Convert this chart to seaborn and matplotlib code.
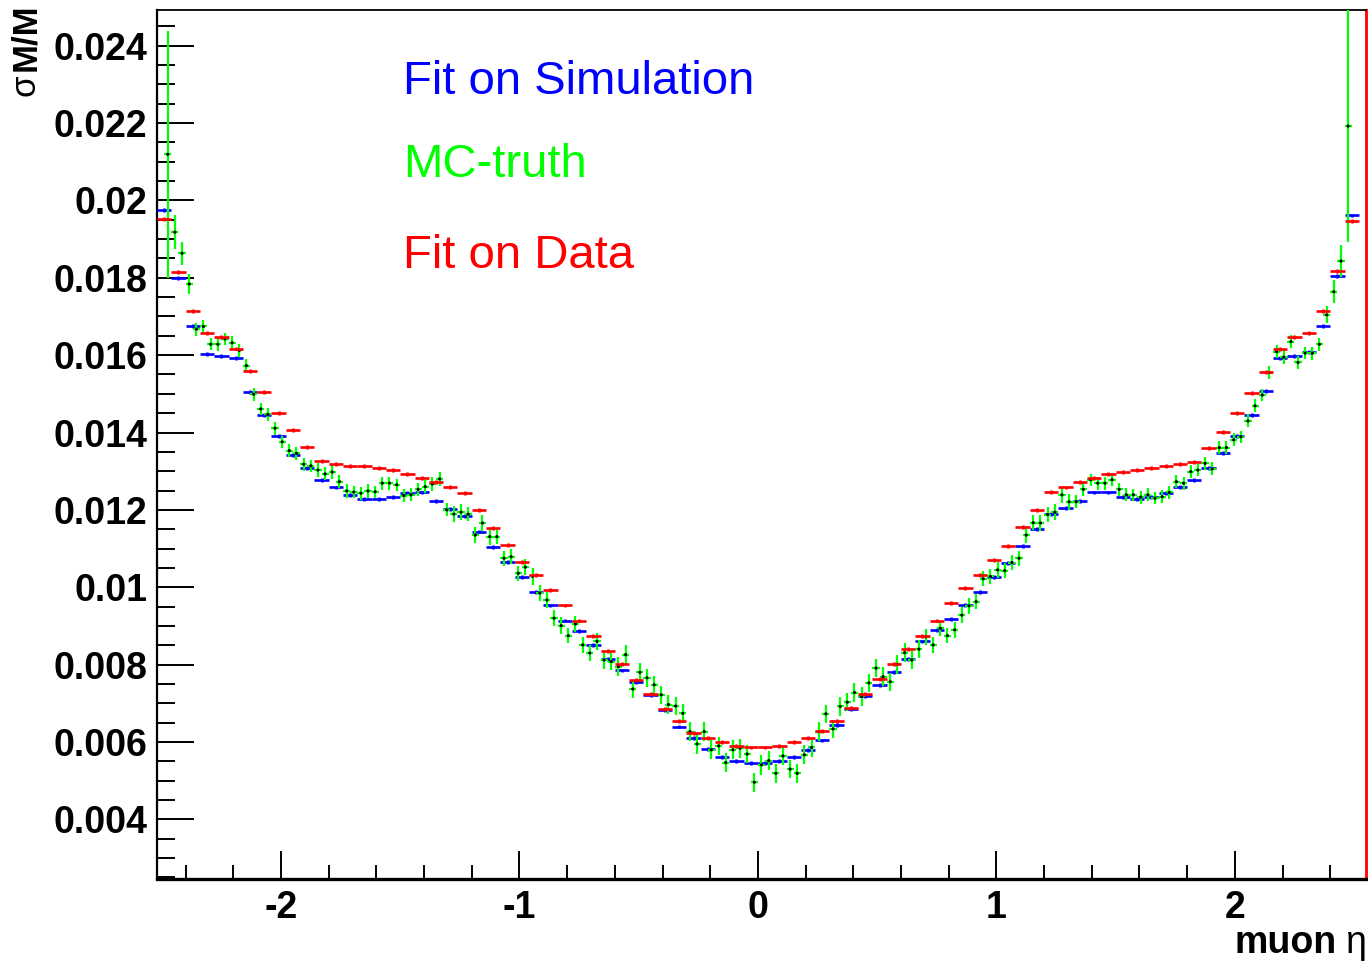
import numpy as np
import pandas as pd
import matplotlib
matplotlib.use("Agg")
import matplotlib.pyplot as plt
import seaborn as sns
from matplotlib.ticker import MultipleLocator, FuncFormatter

# ---------------- data ----------------
eta_range = (-2.52, 2.52)
n_coarse = 84      # bins of the two fits
n_fine = 168       # bins of the MC-truth

fit_sim = [
    0.01975, 0.01800, 0.01676, 0.01603, 0.01598, 0.01592, 0.01504, 0.01445, 0.01391, 0.01342,
    0.01308, 0.01278, 0.01258, 0.01239, 0.01229, 0.01229, 0.01233, 0.01243, 0.01245, 0.01224,
    0.01203, 0.01185, 0.01144, 0.01105, 0.01066, 0.01026, 0.00987, 0.00953, 0.00914, 0.00888,
    0.00850, 0.00815, 0.00785, 0.00754, 0.00722, 0.00683, 0.00640, 0.00611, 0.00582, 0.00561,
    0.00550, 0.00545, 0.00546, 0.00552, 0.00561, 0.00580, 0.00604, 0.00643, 0.00685, 0.00719,
    0.00748, 0.00780, 0.00815, 0.00860, 0.00889, 0.00919, 0.00954, 0.00987, 0.01026, 0.01062,
    0.01107, 0.01151, 0.01190, 0.01204, 0.01223, 0.01245, 0.01245, 0.01234, 0.01229, 0.01233,
    0.01243, 0.01259, 0.01278, 0.01308, 0.01346, 0.01391, 0.01445, 0.01508, 0.01592, 0.01598,
    0.01608, 0.01676, 0.01805, 0.01961,
]

fit_data = [
    0.01951, 0.01814, 0.01715, 0.01657, 0.01646, 0.01617, 0.01558, 0.01504, 0.01450, 0.01406,
    0.01362, 0.01327, 0.01318, 0.01314, 0.01314, 0.01308, 0.01303, 0.01293, 0.01282, 0.01273,
    0.01259, 0.01243, 0.01199, 0.01154, 0.01110, 0.01066, 0.01031, 0.00993, 0.00953, 0.00914,
    0.00874, 0.00835, 0.00801, 0.00761, 0.00725, 0.00685, 0.00655, 0.00624, 0.00610, 0.00600,
    0.00590, 0.00586, 0.00586, 0.00590, 0.00599, 0.00610, 0.00629, 0.00655, 0.00687, 0.00725,
    0.00762, 0.00802, 0.00840, 0.00875, 0.00914, 0.00959, 0.00998, 0.01032, 0.01071, 0.01107,
    0.01155, 0.01200, 0.01247, 0.01258, 0.01273, 0.01282, 0.01293, 0.01299, 0.01303, 0.01308,
    0.01314, 0.01318, 0.01323, 0.01361, 0.01401, 0.01450, 0.01503, 0.01557, 0.01616, 0.01646,
    0.01657, 0.01715, 0.01818, 0.01947,
]

mc_truth = [
    np.nan, 0.02119, 0.01918, 0.01863, 0.01784, 0.01667, 0.01674, 0.01628, 0.01628, 0.01642,
    0.01632, 0.01612, 0.01573, 0.01499, 0.01461, 0.01447, 0.01411, 0.01376, 0.01353, 0.01346,
    0.01318, 0.01314, 0.01303, 0.01293, 0.01298, 0.01273, 0.01249, 0.01246, 0.01243, 0.01249,
    0.01247, 0.01269, 0.01269, 0.01265, 0.01237, 0.01239, 0.01253, 0.01260, 0.01267, 0.01280,
    0.01200, 0.01189, 0.01194, 0.01189, 0.01135, 0.01166, 0.01131, 0.01131, 0.01075, 0.01079,
    0.01036, 0.01052, 0.01028, 0.00985, 0.00967, 0.00920, 0.00901, 0.00875, 0.00905, 0.00851,
    0.00830, 0.00860, 0.00812, 0.00808, 0.00795, 0.00826, 0.00737, 0.00780, 0.00766, 0.00748,
    0.00722, 0.00697, 0.00693, 0.00674, 0.00627, 0.00595, 0.00627, 0.00580, 0.00590, 0.00547,
    0.00580, 0.00584, 0.00569, 0.00496, 0.00541, 0.00552, 0.00519, 0.00564, 0.00530, 0.00519,
    0.00567, 0.00586, 0.00627, 0.00673, 0.00634, 0.00692, 0.00703, 0.00728, 0.00718, 0.00753,
    0.00791, 0.00769, 0.00756, 0.00801, 0.00831, 0.00812, 0.00840, 0.00872, 0.00851, 0.00894,
    0.00875, 0.00890, 0.00928, 0.00952, 0.00963, 0.01022, 0.01028, 0.01045, 0.01043, 0.01064,
    0.01075, 0.01135, 0.01167, 0.01166, 0.01188, 0.01194, 0.01239, 0.01221, 0.01221, 0.01253,
    0.01278, 0.01269, 0.01269, 0.01278, 0.01253, 0.01239, 0.01239, 0.01233, 0.01239, 0.01230,
    0.01234, 0.01245, 0.01273, 0.01269, 0.01299, 0.01303, 0.01320, 0.01306, 0.01361, 0.01361,
    0.01381, 0.01389, 0.01430, 0.01469, 0.01497, 0.01555, 0.01609, 0.01595, 0.01635, 0.01581,
    0.01605, 0.01605, 0.01628, 0.01704, 0.01764, 0.01843, 0.02192, np.nan,
]

mc_truth_err = [
    np.nan, 0.00320, 0.00045, 0.00030, 0.00025, 0.00017, 0.00017, 0.00016, 0.00017, 0.00016,
    0.00017, 0.00016, 0.00017, 0.00017, 0.00016, 0.00017, 0.00017, 0.00016, 0.00017, 0.00016,
    0.00017, 0.00016, 0.00017, 0.00017, 0.00018, 0.00017, 0.00017, 0.00016, 0.00017, 0.00017,
    0.00016, 0.00017, 0.00017, 0.00016, 0.00017, 0.00017, 0.00016, 0.00017, 0.00017, 0.00018,
    0.00017, 0.00020, 0.00020, 0.00019, 0.00020, 0.00020, 0.00021, 0.00020, 0.00020, 0.00019,
    0.00020, 0.00020, 0.00021, 0.00020, 0.00020, 0.00020, 0.00021, 0.00020, 0.00020, 0.00021,
    0.00020, 0.00023, 0.00024, 0.00023, 0.00024, 0.00024, 0.00023, 0.00024, 0.00024, 0.00023,
    0.00024, 0.00024, 0.00023, 0.00024, 0.00024, 0.00025, 0.00024, 0.00024, 0.00023, 0.00024,
    0.00024, 0.00025, 0.00024, 0.00024, 0.00025, 0.00024, 0.00024, 0.00023, 0.00024, 0.00024,
    0.00025, 0.00024, 0.00024, 0.00023, 0.00024, 0.00024, 0.00023, 0.00024, 0.00024, 0.00023,
    0.00024, 0.00024, 0.00023, 0.00024, 0.00024, 0.00023, 0.00024, 0.00020, 0.00021, 0.00020,
    0.00020, 0.00021, 0.00020, 0.00020, 0.00019, 0.00020, 0.00020, 0.00021, 0.00020, 0.00020,
    0.00020, 0.00021, 0.00020, 0.00020, 0.00019, 0.00020, 0.00020, 0.00020, 0.00017, 0.00017,
    0.00016, 0.00017, 0.00017, 0.00016, 0.00017, 0.00017, 0.00016, 0.00017, 0.00017, 0.00016,
    0.00017, 0.00017, 0.00016, 0.00017, 0.00017, 0.00016, 0.00017, 0.00017, 0.00016, 0.00017,
    0.00017, 0.00016, 0.00017, 0.00017, 0.00016, 0.00017, 0.00017, 0.00018, 0.00017, 0.00017,
    0.00016, 0.00017, 0.00017, 0.00022, 0.00029, 0.00042, 0.00300, np.nan,
]

fit_err = 0.00005

legend_labels = ["Fit on Simulation", "MC-truth", "Fit on Data"]
colors = {"sim": "#0000ff", "mc": "#00ff00", "data": "#ff0000"}

# ---------------- derived tables ----------------
coarse_edges = np.linspace(eta_range[0], eta_range[1], n_coarse + 1)
fine_edges = np.linspace(eta_range[0], eta_range[1], n_fine + 1)
coarse = pd.DataFrame({
    "eta": 0.5 * (coarse_edges[:-1] + coarse_edges[1:]),
    "half": 0.5 * np.diff(coarse_edges),
    "sim": fit_sim,
    "data": fit_data,
})
fine = pd.DataFrame({
    "eta": 0.5 * (fine_edges[:-1] + fine_edges[1:]),
    "half": 0.5 * np.diff(fine_edges),
    "mc": mc_truth,
    "err": mc_truth_err,
})

# ---------------- figure ----------------
sns.set_theme(style="white")
plt.rcParams["font.family"] = ["Liberation Sans", "DejaVu Sans"]

W, H = 1368, 961
fig = plt.figure(figsize=(W / 100, H / 100), dpi=100)
ax = fig.add_axes([157 / W, (H - 879) / H, (1366 - 157) / W, (879 - 10) / H])

ax.errorbar(coarse["eta"], coarse["sim"], xerr=coarse["half"], yerr=fit_err,
            fmt="none", ecolor=colors["sim"], elinewidth=1.9, capsize=0, zorder=3)
fmc = fine.dropna()
ax.errorbar(fmc["eta"], fmc["mc"], xerr=fmc["half"], yerr=fmc["err"],
            fmt="none", ecolor=colors["mc"], elinewidth=1.6, capsize=0, zorder=4)
sns.scatterplot(data=fmc, x="eta", y="mc", color="black", s=5, edgecolor="none",
                ax=ax, legend=False, zorder=5)
ax.errorbar(coarse["eta"], coarse["data"], xerr=coarse["half"], yerr=fit_err,
            fmt="none", ecolor=colors["data"], elinewidth=1.9, capsize=0, zorder=6)

ax.set_xlim(-2.52, 2.55)
ax.set_ylim(0.00246, 0.02492)
ax.set_xlabel("")
ax.set_ylabel("")

ax.xaxis.set_major_locator(MultipleLocator(1))
ax.xaxis.set_minor_locator(MultipleLocator(0.2))
ax.yaxis.set_major_locator(MultipleLocator(0.002))
ax.yaxis.set_minor_locator(MultipleLocator(0.0005))
fmt = FuncFormatter(lambda v, p: "%g" % round(v, 6))
ax.xaxis.set_major_formatter(fmt)
ax.yaxis.set_major_formatter(fmt)

ax.tick_params(axis="both", which="both", direction="in",
               bottom=True, left=True, top=False, right=False,
               colors="black", width=1.4)
ax.tick_params(axis="y", which="major", length=26.5, pad=7)
ax.tick_params(axis="y", which="minor", length=13)
ax.tick_params(axis="x", which="major", length=20, pad=8)
ax.tick_params(axis="x", which="minor", length=10)
for lab in ax.get_xticklabels() + ax.get_yticklabels():
    lab.set_fontsize(27)
    lab.set_fontweight("bold")

for side, lw, col in [("left", 1.6, "black"), ("bottom", 2.4, "black"),
                      ("top", 1.3, "black"), ("right", 2.0, "#ff0000")]:
    ax.spines[side].set_visible(True)
    ax.spines[side].set_linewidth(lw)
    ax.spines[side].set_color(col)

# axis titles (bold Latin part, thin Greek part, as in the reference)
fig.text(42 / W, 1 - 3 / H, "M/M", rotation=90, ha="right", va="top",
         fontsize=25, fontweight="bold", color="black")
fig.text(42 / W, 1 - 75 / H, "σ", rotation=90, ha="right", va="top",
         fontsize=25, color="black")
fig.text(1337 / W, 1 - 953 / H, "muon", ha="right", va="baseline",
         fontsize=27, fontweight="bold", color="black")
fig.text(1366 / W, 1 - 953 / H, "η", ha="right", va="baseline",
         fontsize=27, color="black")

# in-plot legend texts
for lab, key, base in zip(legend_labels, ["sim", "mc", "data"], [94, 177, 268]):
    fig.text(403 / W, 1 - base / H, lab, ha="left", va="baseline",
             fontsize=34, color=colors[key])

fig.savefig("out.png", dpi=100)
